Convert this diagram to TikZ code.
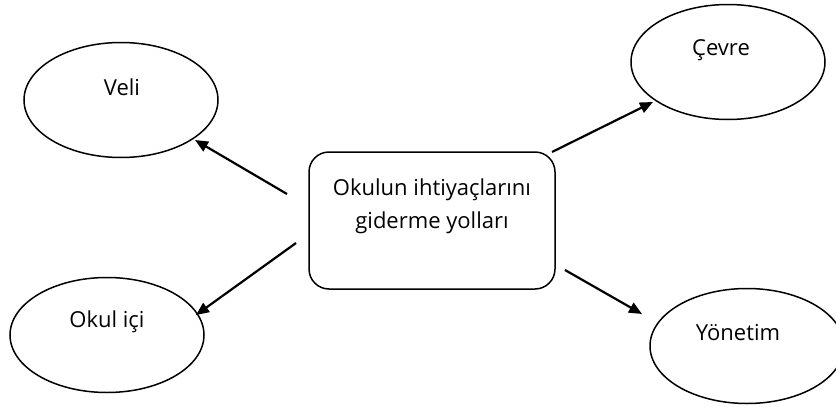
\documentclass[tikz,border=0pt]{standalone}
\usepackage{fontspec}
\setmainfont{Open Sans}
\usetikzlibrary{shapes.geometric,arrows.meta}
\begin{document}
\begin{tikzpicture}[x=1pt,y=-1pt,
  ell/.style={draw,line width=1.5pt,ellipse,minimum width=194pt,minimum height=115pt,inner sep=0pt},
  box/.style={draw,line width=1.5pt,rounded corners=20pt,minimum width=246pt,minimum height=137pt,inner sep=0pt},
  lbl/.style={font=\fontsize{22}{27}\selectfont,inner sep=0pt},
  arr/.style={line width=2.2pt,-{Triangle[length=13pt,width=11pt]}}]
\useasboundingbox (0,0) rectangle (836,407);
\node[ell] (veli) at (121,100) {};
\node[lbl] (tveli) at (122,87) {Veli};
\node[ell] (cevre) at (728,62) {};
\node[lbl] (tcevre) at (721,50) {Çevre};
\node[ell] (okul) at (107,335) {};
\node[lbl] (tokul) at (107,322) {Okul içi};
\node[ell] (yon) at (747,346) {};
\node[lbl] (tyon) at (738,333) {Yönetim};
\node[box] (center) at (432,220.5) {};
\node[lbl,align=center] (tcenter) at (432,206) {Okulun ihtiyaçlarını\\[6pt]giderme yolları};
\coordinate (s1) at (287,194); \coordinate (e1) at (195,140);
\coordinate (s2) at (296,243); \coordinate (e2) at (196,315);
\coordinate (s3) at (552,152); \coordinate (e3) at (653,102);
\coordinate (s4) at (565,270); \coordinate (e4) at (642,314);
\draw[arr] (s1) -- (e1);
\draw[arr] (s2) -- (e2);
\draw[arr] (s3) -- (e3);
\draw[arr] (s4) -- (e4);
\end{tikzpicture}
\end{document}
